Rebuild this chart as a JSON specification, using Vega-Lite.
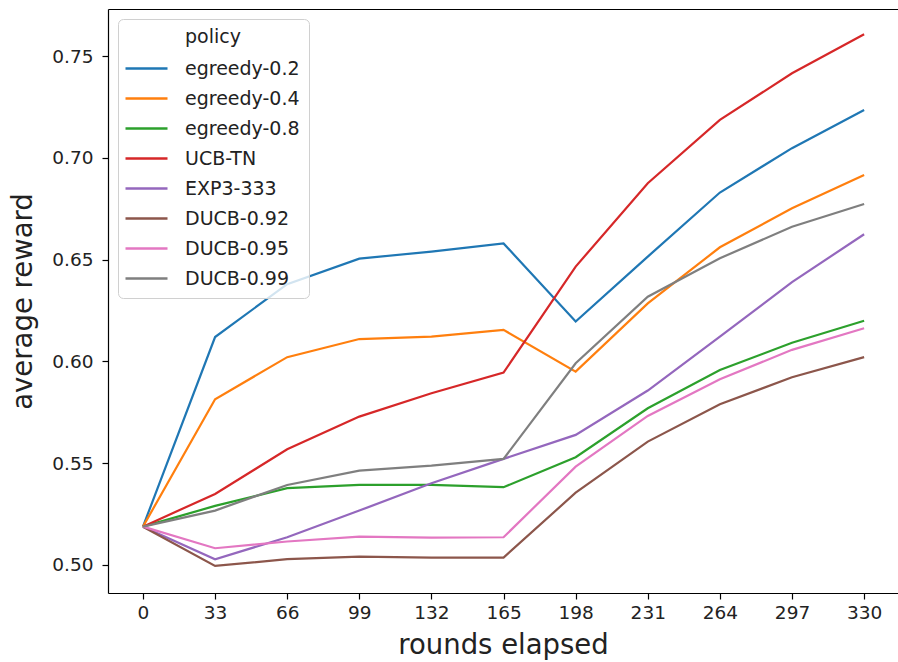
{
  "$schema": "https://vega.github.io/schema/vega-lite/v6.json",
  "width": 790,
  "height": 584,
  "autosize": {"type": "none"},
  "padding": {"left": 108, "top": 9, "right": 0, "bottom": 69},
  "background": "white",
  "config": {
    "font": "DejaVu Sans",
    "view": {"stroke": null},
    "axis": {
      "grid": false,
      "domainColor": "black",
      "domainWidth": 1.2,
      "tickColor": "black",
      "tickWidth": 1.2,
      "tickSize": 6,
      "labelFont": "DejaVu Sans",
      "labelFontSize": 18.5,
      "labelColor": "#222222",
      "titleFont": "DejaVu Sans",
      "titleFontSize": 27.5,
      "titleFontWeight": "normal",
      "titleColor": "#222222"
    },
    "legend": {
      "orient": "top-left",
      "offset": 10,
      "fillColor": "rgba(255,255,255,0.8)",
      "strokeColor": "#d0d0d0",
      "cornerRadius": 5,
      "padding": 9,
      "labelFont": "DejaVu Sans",
      "labelFontSize": 19,
      "labelColor": "#222222",
      "titleFont": "DejaVu Sans",
      "titleFontSize": 19,
      "titleFontWeight": "normal",
      "titleColor": "#222222",
      "titleAnchor": "middle",
      "titlePadding": 12,
      "symbolType": "M-1.571,0H4.429",
      "symbolSize": 196,
      "symbolStrokeWidth": 2.6,
      "labelOffset": 39,
      "rowPadding": 10
    }
  },
  "data": {
    "values": [
      {"round": 0, "policy": "egreedy-0.2", "reward": 0.5188},
      {"round": 33, "policy": "egreedy-0.2", "reward": 0.612},
      {"round": 66, "policy": "egreedy-0.2", "reward": 0.638},
      {"round": 99, "policy": "egreedy-0.2", "reward": 0.6505},
      {"round": 132, "policy": "egreedy-0.2", "reward": 0.654},
      {"round": 165, "policy": "egreedy-0.2", "reward": 0.658},
      {"round": 198, "policy": "egreedy-0.2", "reward": 0.6196},
      {"round": 231, "policy": "egreedy-0.2", "reward": 0.6515},
      {"round": 264, "policy": "egreedy-0.2", "reward": 0.683},
      {"round": 297, "policy": "egreedy-0.2", "reward": 0.7048},
      {"round": 330, "policy": "egreedy-0.2", "reward": 0.7236},
      {"round": 0, "policy": "egreedy-0.4", "reward": 0.5188},
      {"round": 33, "policy": "egreedy-0.4", "reward": 0.5814},
      {"round": 66, "policy": "egreedy-0.4", "reward": 0.6021},
      {"round": 99, "policy": "egreedy-0.4", "reward": 0.611},
      {"round": 132, "policy": "egreedy-0.4", "reward": 0.6122},
      {"round": 165, "policy": "egreedy-0.4", "reward": 0.6155},
      {"round": 198, "policy": "egreedy-0.4", "reward": 0.595},
      {"round": 231, "policy": "egreedy-0.4", "reward": 0.6285},
      {"round": 264, "policy": "egreedy-0.4", "reward": 0.6561},
      {"round": 297, "policy": "egreedy-0.4", "reward": 0.6753},
      {"round": 330, "policy": "egreedy-0.4", "reward": 0.6916},
      {"round": 0, "policy": "egreedy-0.8", "reward": 0.5188},
      {"round": 33, "policy": "egreedy-0.8", "reward": 0.529},
      {"round": 66, "policy": "egreedy-0.8", "reward": 0.5377},
      {"round": 99, "policy": "egreedy-0.8", "reward": 0.5393},
      {"round": 132, "policy": "egreedy-0.8", "reward": 0.5393},
      {"round": 165, "policy": "egreedy-0.8", "reward": 0.5382},
      {"round": 198, "policy": "egreedy-0.8", "reward": 0.5529},
      {"round": 231, "policy": "egreedy-0.8", "reward": 0.577},
      {"round": 264, "policy": "egreedy-0.8", "reward": 0.5958},
      {"round": 297, "policy": "egreedy-0.8", "reward": 0.6092},
      {"round": 330, "policy": "egreedy-0.8", "reward": 0.62},
      {"round": 0, "policy": "UCB-TN", "reward": 0.5188},
      {"round": 33, "policy": "UCB-TN", "reward": 0.5349},
      {"round": 66, "policy": "UCB-TN", "reward": 0.5568},
      {"round": 99, "policy": "UCB-TN", "reward": 0.5729},
      {"round": 132, "policy": "UCB-TN", "reward": 0.5844},
      {"round": 165, "policy": "UCB-TN", "reward": 0.5945},
      {"round": 198, "policy": "UCB-TN", "reward": 0.6466},
      {"round": 231, "policy": "UCB-TN", "reward": 0.6876},
      {"round": 264, "policy": "UCB-TN", "reward": 0.7187},
      {"round": 297, "policy": "UCB-TN", "reward": 0.7416},
      {"round": 330, "policy": "UCB-TN", "reward": 0.7608},
      {"round": 0, "policy": "EXP3-333", "reward": 0.5188},
      {"round": 33, "policy": "EXP3-333", "reward": 0.5028},
      {"round": 66, "policy": "EXP3-333", "reward": 0.5136},
      {"round": 99, "policy": "EXP3-333", "reward": 0.5267},
      {"round": 132, "policy": "EXP3-333", "reward": 0.5401},
      {"round": 165, "policy": "EXP3-333", "reward": 0.5521},
      {"round": 198, "policy": "EXP3-333", "reward": 0.5639},
      {"round": 231, "policy": "EXP3-333", "reward": 0.5857},
      {"round": 264, "policy": "EXP3-333", "reward": 0.6122},
      {"round": 297, "policy": "EXP3-333", "reward": 0.639},
      {"round": 330, "policy": "EXP3-333", "reward": 0.6625},
      {"round": 0, "policy": "DUCB-0.92", "reward": 0.5188},
      {"round": 33, "policy": "DUCB-0.92", "reward": 0.4995},
      {"round": 66, "policy": "DUCB-0.92", "reward": 0.5028},
      {"round": 99, "policy": "DUCB-0.92", "reward": 0.5041},
      {"round": 132, "policy": "DUCB-0.92", "reward": 0.5036},
      {"round": 165, "policy": "DUCB-0.92", "reward": 0.5036},
      {"round": 198, "policy": "DUCB-0.92", "reward": 0.5355},
      {"round": 231, "policy": "DUCB-0.92", "reward": 0.5606},
      {"round": 264, "policy": "DUCB-0.92", "reward": 0.579},
      {"round": 297, "policy": "DUCB-0.92", "reward": 0.5922},
      {"round": 330, "policy": "DUCB-0.92", "reward": 0.6021},
      {"round": 0, "policy": "DUCB-0.95", "reward": 0.5188},
      {"round": 33, "policy": "DUCB-0.95", "reward": 0.5082},
      {"round": 66, "policy": "DUCB-0.95", "reward": 0.5115},
      {"round": 99, "policy": "DUCB-0.95", "reward": 0.5139},
      {"round": 132, "policy": "DUCB-0.95", "reward": 0.5134},
      {"round": 165, "policy": "DUCB-0.95", "reward": 0.5136},
      {"round": 198, "policy": "DUCB-0.95", "reward": 0.5483},
      {"round": 231, "policy": "DUCB-0.95", "reward": 0.5732},
      {"round": 264, "policy": "DUCB-0.95", "reward": 0.5912},
      {"round": 297, "policy": "DUCB-0.95", "reward": 0.6057},
      {"round": 330, "policy": "DUCB-0.95", "reward": 0.6163},
      {"round": 0, "policy": "DUCB-0.99", "reward": 0.5188},
      {"round": 33, "policy": "DUCB-0.99", "reward": 0.5267},
      {"round": 66, "policy": "DUCB-0.99", "reward": 0.5393},
      {"round": 99, "policy": "DUCB-0.99", "reward": 0.5463},
      {"round": 132, "policy": "DUCB-0.99", "reward": 0.5488},
      {"round": 165, "policy": "DUCB-0.99", "reward": 0.5521},
      {"round": 198, "policy": "DUCB-0.99", "reward": 0.5991},
      {"round": 231, "policy": "DUCB-0.99", "reward": 0.6318},
      {"round": 264, "policy": "DUCB-0.99", "reward": 0.6507},
      {"round": 297, "policy": "DUCB-0.99", "reward": 0.6662},
      {"round": 330, "policy": "DUCB-0.99", "reward": 0.6774}
    ]
  },
  "layer": [
    {
      "mark": {"type": "line", "strokeWidth": 2.2},
      "encoding": {
        "x": {
          "field": "round",
          "type": "quantitative",
          "scale": {"domain": [-16, 345.5], "nice": false, "zero": false},
          "axis": {
            "values": [0, 33, 66, 99, 132, 165, 198, 231, 264, 297, 330],
            "title": "rounds elapsed",
            "labelPadding": 4,
            "titlePadding": 10
          }
        },
        "y": {
          "field": "reward",
          "type": "quantitative",
          "scale": {"domain": [0.4862, 0.7732], "nice": false, "zero": false},
          "axis": {
            "values": [0.5, 0.55, 0.6, 0.65, 0.7, 0.75],
            "format": ".2f",
            "title": "average reward",
            "labelPadding": 9,
            "titlePadding": 14
          }
        },
        "color": {
          "field": "policy",
          "type": "nominal",
          "title": "policy",
          "scale": {
            "domain": ["egreedy-0.2", "egreedy-0.4", "egreedy-0.8", "UCB-TN", "EXP3-333", "DUCB-0.92", "DUCB-0.95", "DUCB-0.99"],
            "range": ["#1f77b4", "#ff7f0e", "#2ca02c", "#d62728", "#9467bd", "#8c564b", "#e377c2", "#7f7f7f"]
          }
        }
      }
    },
    {
      "mark": {"type": "point", "opacity": 0},
      "encoding": {
        "x": {
          "field": "round",
          "type": "quantitative",
          "scale": {"domain": [-16, 345.5], "nice": false, "zero": false},
          "axis": {"orient": "top", "labels": false, "ticks": false, "title": null, "domain": true}
        },
        "y": {
          "field": "reward",
          "type": "quantitative"
        }
      }
    }
  ],
  "resolve": {"axis": {"x": "independent"}}
}
